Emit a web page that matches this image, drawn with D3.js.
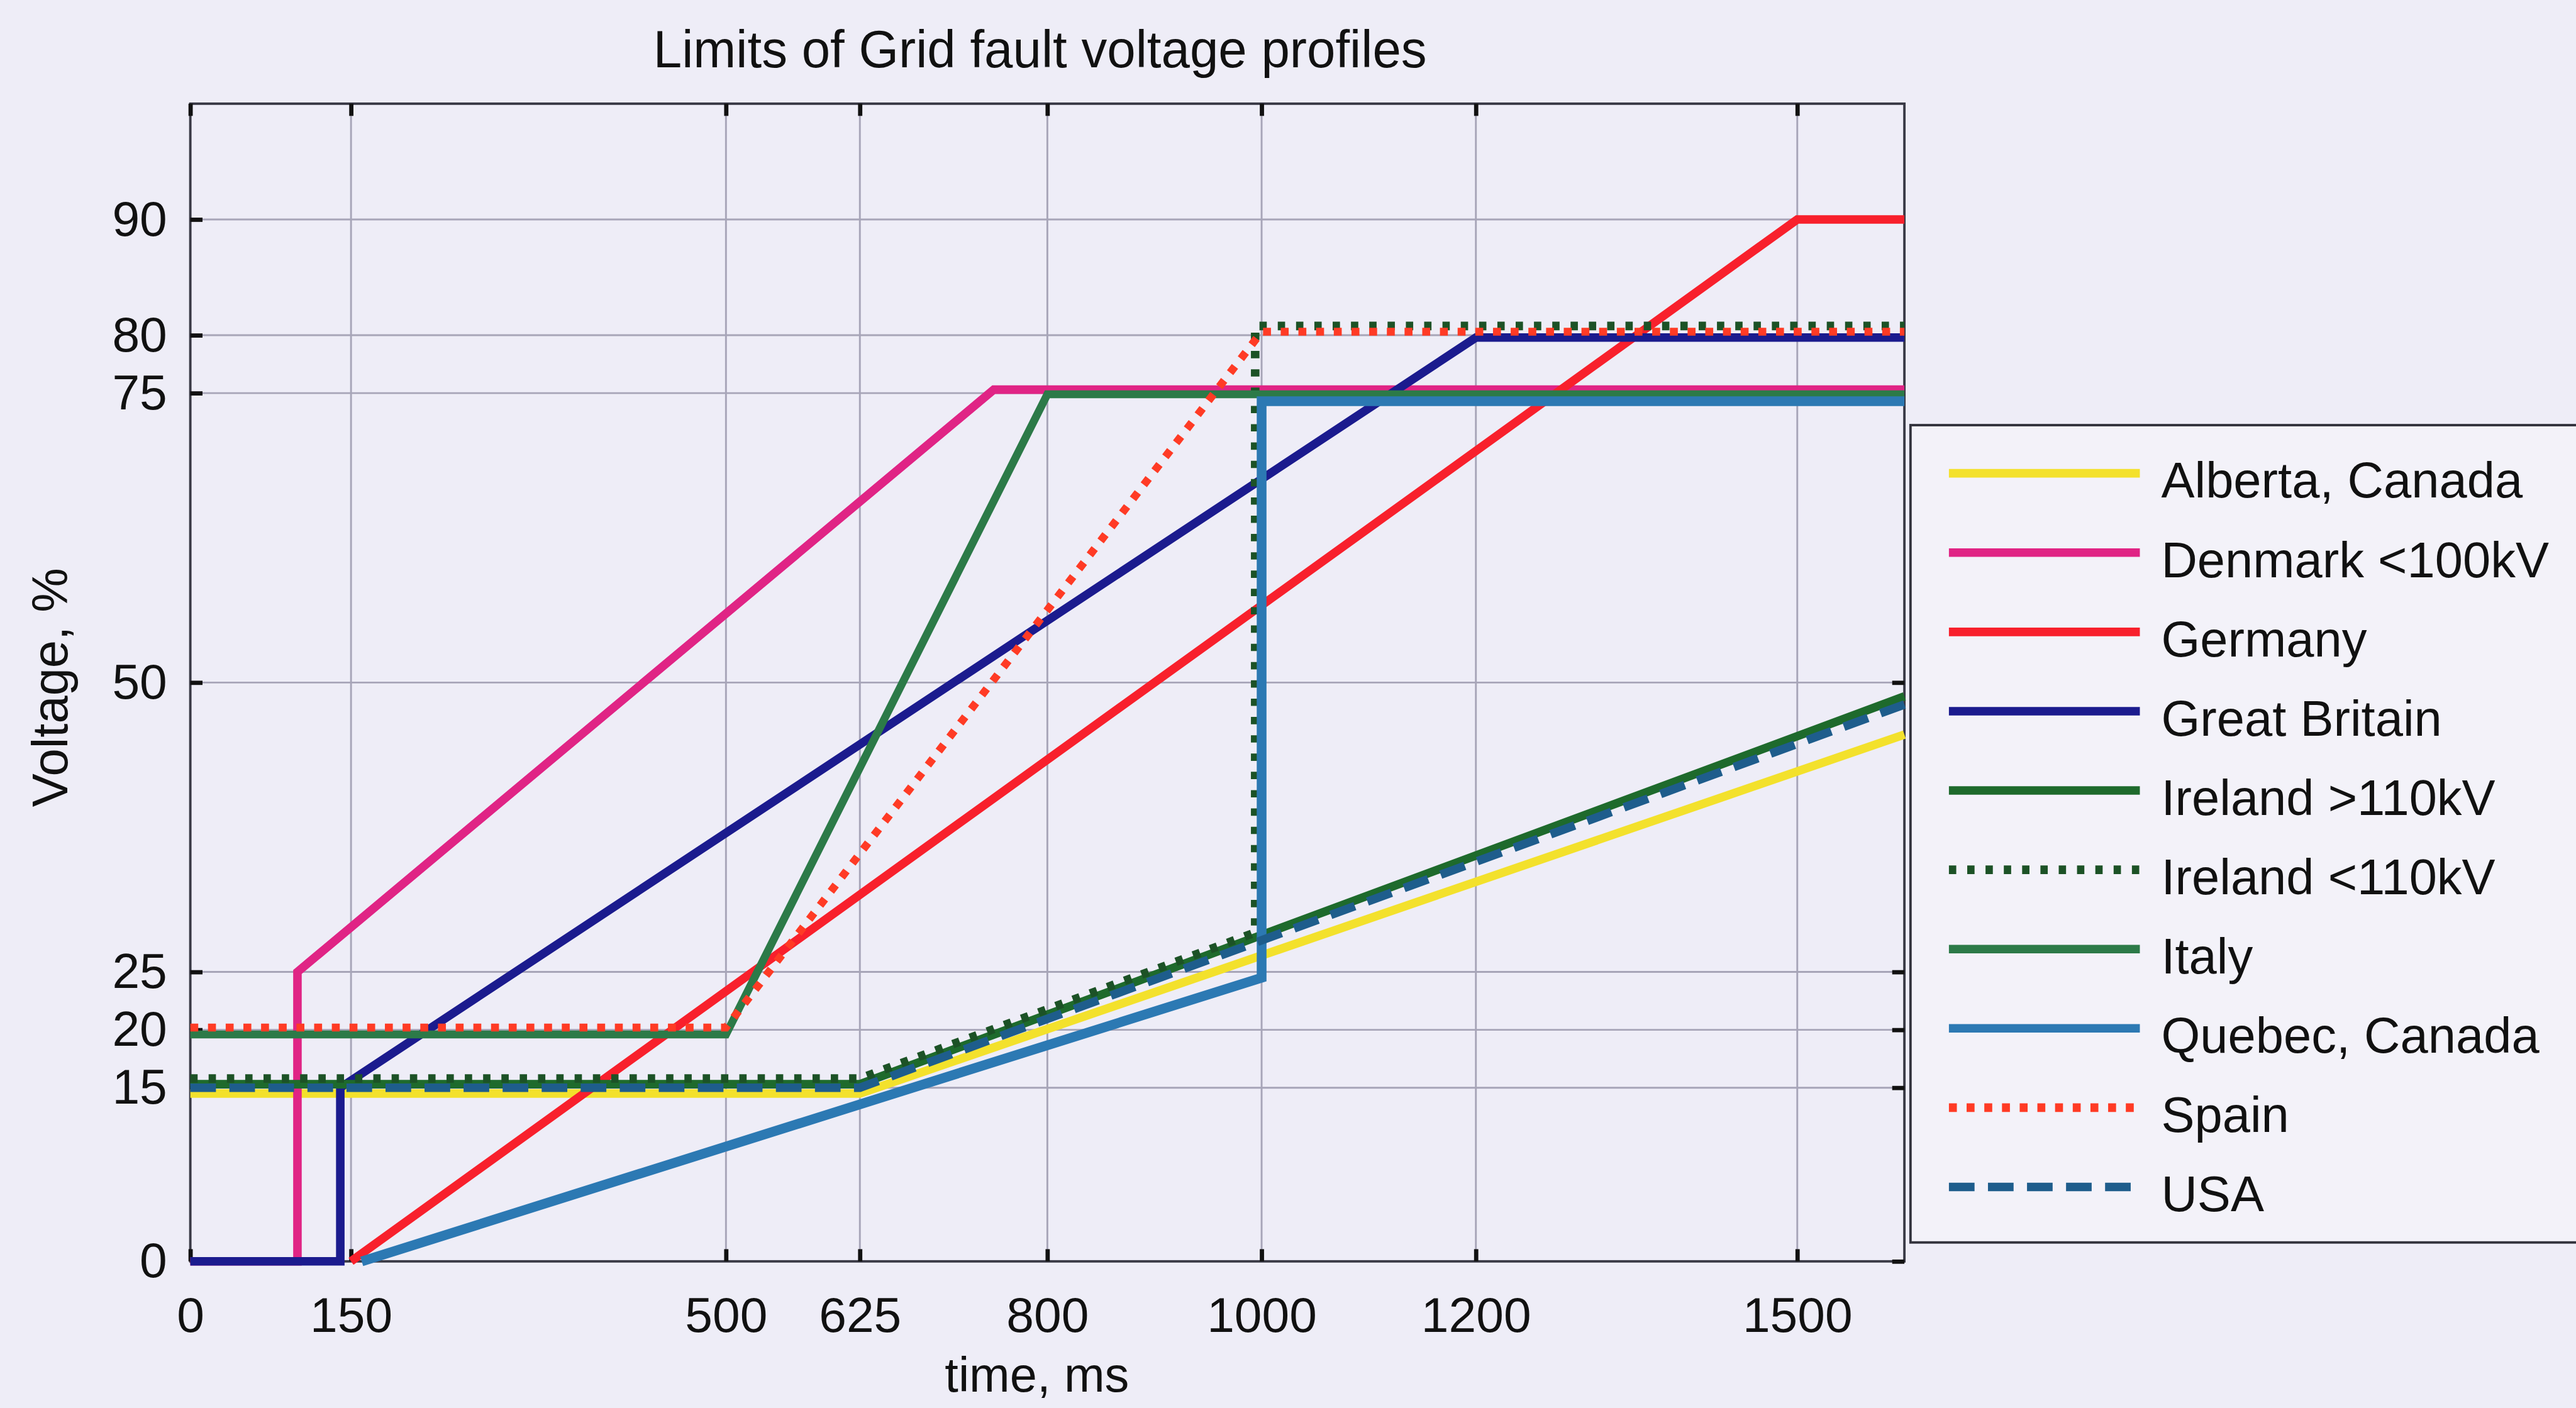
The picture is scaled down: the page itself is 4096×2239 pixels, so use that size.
<!DOCTYPE html>
<html>
<head>
<meta charset="UTF-8">
<title>Limits of Grid fault voltage profiles</title>
<script src="https://d3js.org/d3.v7.min.js"></script>
<style>
  body { margin: 0; background: #eeedf7; }
  svg { display: block; }
  text { font-family: "Liberation Sans", Arial, sans-serif; fill: #111; }
</style>
</head>
<body>
<svg id="chart" width="4096" height="2239"></svg>
<script>

// ---- data ----
var xTicks = [0, 150, 500, 625, 800, 1000, 1200, 1500];
var yTicks = [0, 15, 20, 25, 50, 75, 80, 90];

var names = ["Alberta, Canada", "Denmark <100kV", "Germany", "Great Britain",
             "Ireland >110kV", "Ireland <110kV", "Italy", "Quebec, Canada",
             "Spain", "USA"];

// [time ms, voltage %]
var alberta   = [[0, 14.5], [625, 14.5], [1600, 45.5]];
var denmark   = [[0, 0], [100, 0], [100, 25], [750, 75.3], [1600, 75.3]];
var germany   = [[150, 0], [1500, 90], [1600, 90]];
var britain   = [[0, 0], [140, 0], [140, 15], [1200, 79.8], [1600, 79.8]];
var irelandHi = [[0, 15.3], [625, 15.3], [1600, 48.8]];
var irelandLo = [[0, 15.8], [625, 15.8], [994, 28.4], [994, 80.8], [1600, 80.8]];
var italy     = [[0, 19.6], [500, 19.6], [800, 74.9], [1600, 74.9]];
var quebec    = [[160, 0], [1000, 24.5], [1000, 74.3], [1600, 74.3]];
var spain     = [[0, 20.2], [500, 20.2], [1000, 80.3], [1600, 80.3]];
var usa       = [[0, 15.0], [625, 15.0], [1600, 48.1]];

var seriesData = [alberta, denmark, germany, britain, irelandHi, irelandLo, italy, quebec, spain, usa];

// styles
var colors = ["#f3e12c", "#e02485", "#f8202c", "#1b1b8e", "#1e6a2c",
              "#1c5226", "#2c7a48", "#2c79b3", "#ff3b25", "#1e5d8c"];
var dashes = [null, null, null, null, null, "12,18", null, null, "13,16", "42,22"];
var widths = [14, 14, 14, 14, 14, 14, 13, 16, 13, 14];

// everything is laid out in reference pixels, then scaled to the window
var s = 4096 / 4223;
var svg = d3.select("#chart");
svg.append("rect").attr("width", 4096).attr("height", 2239).attr("fill", "#eeedf7");
var root = svg.append("g").attr("transform", "scale(" + s + ")");

var plot = {left: 312, right: 3122, top: 170, bottom: 2068};

var x = d3.scaleLinear().domain([0, 1600]).range([plot.left, plot.right]);
var y = d3.scaleLinear().domain([0, 100]).range([plot.bottom, plot.top]);

// grid
root.append("g").selectAll("line")
  .data(xTicks.filter(function(d) { return d > 0; }))
  .enter().append("line")
    .attr("x1", function(d) { return x(d); }).attr("x2", function(d) { return x(d); })
    .attr("y1", plot.top).attr("y2", plot.bottom)
    .attr("stroke", "#a7a5b8").attr("stroke-width", 3);

root.append("g").selectAll("line")
  .data(yTicks.filter(function(d) { return d > 0; }))
  .enter().append("line")
    .attr("x1", plot.left).attr("x2", plot.right)
    .attr("y1", function(d) { return y(d); }).attr("y2", function(d) { return y(d); })
    .attr("stroke", "#a7a5b8").attr("stroke-width", 3);

// axes box
root.append("rect")
  .attr("x", plot.left).attr("y", plot.top)
  .attr("width", plot.right - plot.left).attr("height", plot.bottom - plot.top)
  .attr("fill", "none").attr("stroke", "#3a3a46").attr("stroke-width", 4);

function styleAxis(g) {
  g.select(".domain").remove();
  g.selectAll(".tick line").attr("stroke", "#111").attr("stroke-width", 7);
  g.selectAll(".tick text").attr("font-size", 81)
    .attr("font-family", "Liberation Sans, Arial, sans-serif").attr("fill", "#111");
  g.attr("font-size", null).attr("font-family", null);
}

root.append("g")
  .attr("transform", "translate(0," + plot.bottom + ")")
  .call(d3.axisBottom(x).tickValues(xTicks).tickSize(-20).tickPadding(58).tickFormat(d3.format("d")))
  .call(styleAxis);

root.append("g")
  .attr("transform", "translate(0," + plot.top + ")")
  .call(d3.axisTop(x).tickValues(xTicks).tickSize(-20).tickFormat(""))
  .call(styleAxis);

root.append("g")
  .attr("transform", "translate(" + plot.left + ",0)")
  .call(d3.axisLeft(y).tickValues(yTicks).tickSize(-20).tickPadding(38).tickFormat(d3.format("d")))
  .call(styleAxis);

root.append("g")
  .attr("transform", "translate(" + plot.right + ",0)")
  .call(d3.axisRight(y).tickValues(yTicks).tickSize(-20).tickFormat(""))
  .call(styleAxis);

// profiles
var line = d3.line()
  .x(function(d) { return x(d[0]); })
  .y(function(d) { return y(d[1]); });

root.append("g").selectAll("path")
  .data(seriesData)
  .enter().append("path")
    .attr("d", line)
    .attr("fill", "none")
    .attr("stroke", function(d, i) { return colors[i]; })
    .attr("stroke-width", function(d, i) { return widths[i]; })
    .attr("stroke-dasharray", function(d, i) { return dashes[i]; })
    .attr("stroke-linejoin", "miter");

// titles
root.append("text")
  .attr("x", 1705).attr("y", 110)
  .attr("text-anchor", "middle")
  .attr("font-size", 86)
  .attr("textLength", 1268).attr("lengthAdjust", "spacingAndGlyphs")
  .text("Limits of Grid fault voltage profiles");

root.append("text")
  .attr("x", 1700).attr("y", 2282)
  .attr("text-anchor", "middle")
  .attr("font-size", 80)
  .text("time, ms");

root.append("text")
  .attr("transform", "translate(110,1127) rotate(-90)")
  .attr("text-anchor", "middle")
  .attr("font-size", 82)
  .text("Voltage, %");

// legend
var legend = root.append("g");
legend.append("rect")
  .attr("x", 3132).attr("y", 697)
  .attr("width", 1200).attr("height", 1340)
  .attr("fill", "#f3f2f9").attr("stroke", "#33333d").attr("stroke-width", 4);

var items = legend.selectAll("g.item")
  .data(names)
  .enter().append("g")
    .attr("class", "item")
    .attr("transform", function(d, i) { return "translate(0," + (776 + i * 130) + ")"; });

items.append("line")
  .attr("x1", 3195).attr("x2", 3508)
  .attr("stroke", function(d, i) { return colors[i]; })
  .attr("stroke-width", 14)
  .attr("stroke-dasharray", function(d, i) { return dashes[i]; });

items.append("text")
  .attr("x", 3543).attr("y", 40)
  .attr("font-size", 82)
  .text(function(d) { return d; });

</script>
</body>
</html>
